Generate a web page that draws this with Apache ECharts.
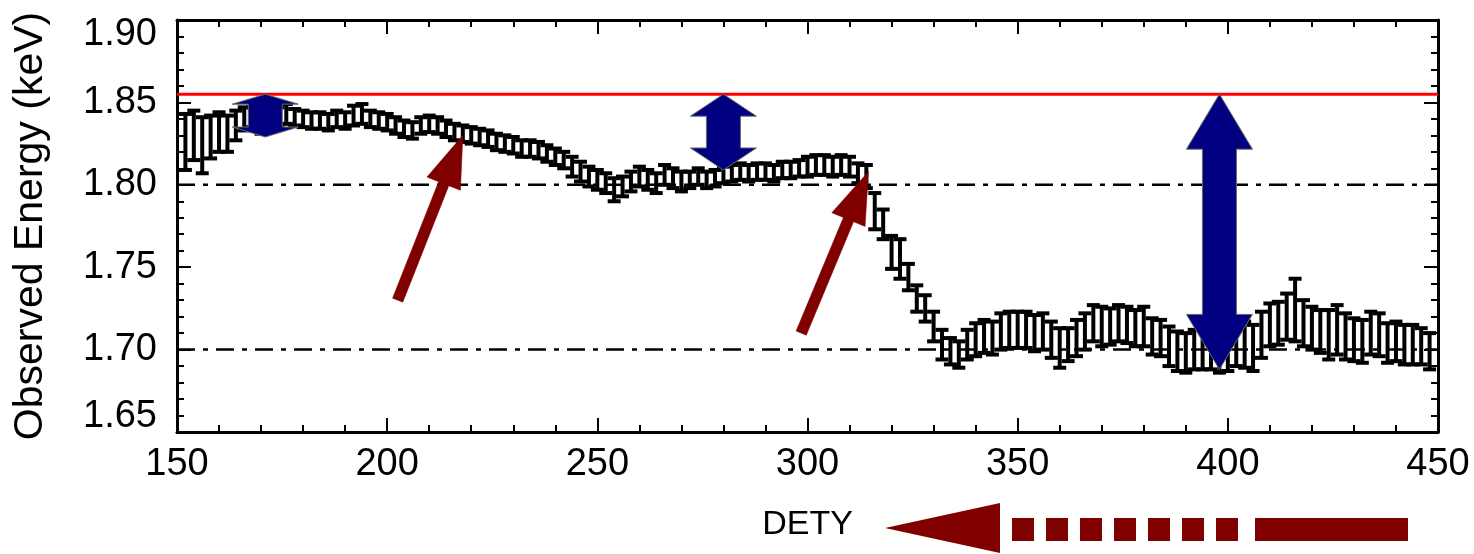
<!DOCTYPE html>
<html>
<head>
<meta charset="utf-8">
<script src="https://cdn.jsdelivr.net/npm/echarts@6/dist/echarts.min.js"></script>
<style>
  html, body { margin: 0; padding: 0; background: #fff; }
  #chart { width: 1474px; height: 554px; }
</style>
</head>
<body>
<div id="chart"></div>
<script>
// Detector row position (DETY) of each binned measurement
const dety = [
  152,154,156,158,160,162,164,166,168,170,172,174,176,178,180,182,184,186,188,190,
  192,194,196,198,200,202,204,206,208,210,212,214,216,218,220,222,224,226,228,230,
  232,234,236,238,240,242,244,246,248,250,252,254,256,258,260,262,264,266,268,270,
  272,274,276,278,280,282,284,286,288,290,292,294,296,298,300,302,304,306,308,310,
  312,314,316,318,320,322,324,326,328,330,332,334,336,338,340,342,344,346,348,350,
  352,354,356,358,360,362,364,366,368,370,372,374,376,378,380,382,384,386,388,390,
  392,394,396,398,400,402,404,406,408,410,412,414,416,418,420,422,424,426,428,430,
  432,434,436,438,440,442,444,446,448
];
// Observed line energy (keV)
const energy = [
  1.826,1.830,1.824,1.829,1.832,1.831,1.836,1.840,1.841,1.840,1.842,1.841,1.843,1.841,1.840,1.839,1.839,1.838,1.840,1.839,
  1.842,1.843,1.840,1.839,1.838,1.836,1.834,1.833,1.836,1.837,1.836,1.834,1.832,1.831,1.830,1.829,1.828,1.826,1.825,1.824,
  1.822,1.822,1.821,1.819,1.817,1.815,1.811,1.808,1.805,1.803,1.801,1.797,1.799,1.802,1.805,1.803,1.801,1.806,1.804,1.802,
  1.803,1.805,1.803,1.804,1.806,1.807,1.808,1.807,1.808,1.808,1.807,1.809,1.809,1.810,1.811,1.812,1.812,1.811,1.812,1.811,
  1.807,1.805,1.784,1.776,1.759,1.755,1.744,1.731,1.725,1.714,1.703,1.699,1.697,1.703,1.706,1.708,1.707,1.711,1.712,1.712,
  1.712,1.710,1.711,1.706,1.701,1.703,1.707,1.711,1.716,1.714,1.714,1.716,1.715,1.713,1.714,1.708,1.707,1.702,1.699,1.698,
  1.700,1.700,1.701,1.699,1.700,1.703,1.703,1.701,1.709,1.715,1.716,1.720,1.724,1.716,1.713,1.711,1.709,1.712,1.708,1.706,
  1.705,1.710,1.709,1.704,1.705,1.703,1.703,1.702,1.699
];
// 1-sigma uncertainty on the energy (keV)
const sigma = [
  .017,.015,.017,.013,.012,.011,.009,.007,.006,.009,.007,.006,.006,.005,.005,.005,.005,.005,.005,.005,
  .006,.006,.005,.005,.005,.005,.005,.005,.005,.005,.005,.005,.005,.005,.005,.005,.005,.005,.005,.005,
  .005,.005,.005,.005,.005,.005,.006,.006,.006,.006,.006,.007,.006,.006,.006,.006,.006,.006,.006,.006,
  .005,.005,.005,.005,.005,.005,.005,.005,.005,.005,.005,.005,.005,.005,.006,.006,.006,.006,.006,.006,
  .006,.007,.011,.009,.010,.012,.008,.008,.008,.009,.009,.008,.008,.009,.010,.010,.010,.011,.011,.011,
  .011,.011,.011,.011,.012,.010,.011,.011,.011,.012,.011,.011,.011,.011,.012,.011,.011,.012,.012,.012,
  .012,.012,.013,.013,.013,.013,.014,.014,.014,.013,.013,.014,.019,.014,.013,.013,.015,.015,.014,.013,
  .013,.013,.013,.012,.012,.012,.012,.011,.011
];

// Reference energy (solid red) and guide levels (dash-dot)
const referenceLevel = 1.855;
const guideLevels = [1.80, 1.70];

// Double-headed offsets from the reference level
const offsetX = [171, 280, 398];
const offsetTop = [1.855, 1.855, 1.855];
const offsetBottom = [1.829, 1.809, 1.688];

// Single-headed pointers to the features
const pointerFrom = [[202.5, 1.730], [298.5, 1.710]];
const pointerTo = [[218.0, 1.830], [314.5, 1.808]];

// Axis tick labels
const xTicks = [150, 200, 250, 300, 350, 400, 450];
const yTicks = ['1.65', '1.70', '1.75', '1.80', '1.85', '1.90'];

const FONT = 'Liberation Sans';
const BLUE = '#000080';
const MAROON = '#800000';
const offsetHead = [10, 22, 55];

const chart = echarts.init(document.getElementById('chart'), null, { renderer: 'canvas' });

const errData = dety.map((x, i) => [x, energy[i], sigma[i]]);

function renderErr(params, api) {
  const x = api.value(0), y = api.value(1), e = api.value(2);
  const top = api.coord([x, y + e]);
  const bot = api.coord([x, y - e]);
  const cap = 6.5;
  const style = { stroke: '#000', lineWidth: 4, fill: null };
  return {
    type: 'group',
    children: [
      { type: 'line', shape: { x1: top[0], y1: top[1], x2: bot[0], y2: bot[1] }, style },
      { type: 'line', shape: { x1: top[0] - cap, y1: top[1], x2: top[0] + cap, y2: top[1] }, style },
      { type: 'line', shape: { x1: bot[0] - cap, y1: bot[1], x2: bot[0] + cap, y2: bot[1] }, style }
    ]
  };
}

// Horizontal reference / guide lines spanning the plot width
function renderLevel(params, api) {
  const i = params.dataIndex;
  const v = api.value(0);
  const a = api.coord([150, v]);
  const b = api.coord([450, v]);
  const isRef = i === 0;
  return {
    type: 'line',
    shape: { x1: a[0], y1: a[1], x2: b[0], y2: b[1] },
    style: isRef
      ? { stroke: '#ff0000', lineWidth: 3 }
      : { stroke: '#000', lineWidth: 2.5, lineDash: [18, 8, 5, 8] }
  };
}

function renderOffset(params, api) {
  const i = params.dataIndex;
  const t = api.coord([offsetX[i], offsetTop[i]]);
  const b = api.coord([offsetX[i], offsetBottom[i]]);
  const cx = t[0], yt = t[1], yb = b[1];
  const h = offsetHead[i], W = 33, w = 17;
  return {
    type: 'polygon',
    shape: { points: [
      [cx, yt], [cx + W, yt + h], [cx + w, yt + h], [cx + w, yb - h], [cx + W, yb - h],
      [cx, yb], [cx - W, yb - h], [cx - w, yb - h], [cx - w, yt + h], [cx - W, yt + h]
    ] },
    style: { fill: BLUE, stroke: '#6a6a6a', lineWidth: 1 },
    z2: 10
  };
}

function renderPointer(params, api) {
  const i = params.dataIndex;
  const a = api.coord(pointerFrom[i]);
  const b = api.coord(pointerTo[i]);
  const dx = b[0] - a[0], dy = b[1] - a[1];
  const len = Math.sqrt(dx * dx + dy * dy);
  const ux = dx / len, uy = dy / len;
  const nx = -uy, ny = ux;
  const hl = 52, hw = 18, sw = 5.5;
  const bx = b[0] - ux * hl, by = b[1] - uy * hl;
  return {
    type: 'polygon',
    shape: { points: [
      [a[0] + nx * sw, a[1] + ny * sw],
      [bx + nx * sw, by + ny * sw],
      [bx + nx * hw, by + ny * hw],
      [b[0], b[1]],
      [bx - nx * hw, by - ny * hw],
      [bx - nx * sw, by - ny * sw],
      [a[0] - nx * sw, a[1] - ny * sw]
    ] },
    style: { fill: MAROON, stroke: MAROON, lineWidth: 0.5 },
    z2: 10
  };
}

// Direction arrow drawn under the DETY axis title
const dirGraphics = [];
dirGraphics.push({
  type: 'polygon',
  shape: { points: [[885, 528], [1000, 503], [1000, 553]] },
  style: { fill: MAROON }
});
for (let k = 0; k < 7; k++) {
  dirGraphics.push({
    type: 'rect',
    shape: { x: 1012 + k * 34, y: 518, width: 22, height: 23 },
    style: { fill: MAROON }
  });
}
dirGraphics.push({
  type: 'rect',
  shape: { x: 1255, y: 518, width: 153, height: 23 },
  style: { fill: MAROON }
});

const axisLineStyle = { color: '#000', width: 3 };
const labelStyle = { fontFamily: FONT, fontSize: 38, color: '#000' };

chart.setOption({
  animation: false,
  backgroundColor: '#fff',
  grid: { left: 177, right: 36, top: 20, bottom: 122, containLabel: false, outerBoundsMode: 'none' },
  graphic: dirGraphics,
  xAxis: [
    {
      type: 'value', min: xTicks[0], max: xTicks[xTicks.length - 1], interval: 50,
      position: 'bottom',
      axisLine: { lineStyle: axisLineStyle },
      axisTick: { inside: true, length: 14, lineStyle: { color: '#000', width: 2 } },
      minorTick: { show: true, splitNumber: 5, length: 7, lineStyle: { color: '#000', width: 2 } },
      splitLine: { show: false },
      axisLabel: Object.assign({ margin: 14, formatter: v => String(v) }, labelStyle),
      name: 'DETY', nameLocation: 'middle', nameGap: 76,
      nameTextStyle: { fontFamily: FONT, fontSize: 34, color: '#000' }
    },
    {
      type: 'value', min: xTicks[0], max: xTicks[xTicks.length - 1], interval: 50,
      position: 'top',
      axisLine: { lineStyle: axisLineStyle },
      axisTick: { inside: true, length: 14, lineStyle: { color: '#000', width: 2 } },
      minorTick: { show: true, splitNumber: 5, length: 7, lineStyle: { color: '#000', width: 2 } },
      splitLine: { show: false },
      axisLabel: { show: false }
    }
  ],
  yAxis: [
    {
      type: 'value', min: 1.65, max: 1.90, interval: 0.05,
      position: 'left',
      axisLine: { lineStyle: axisLineStyle },
      axisTick: { inside: true, length: 14, lineStyle: { color: '#000', width: 2 } },
      minorTick: { show: true, splitNumber: 5, length: 7, lineStyle: { color: '#000', width: 2 } },
      splitLine: { show: false },
      axisLabel: Object.assign({
        margin: 20,
        formatter: v => {
          const s = v.toFixed(2);
          if (s === yTicks[0]) return '{lo|' + s + '}';
          if (s === yTicks[yTicks.length - 1]) return '{hi|' + s + '}';
          return s;
        },
        rich: {
          lo: { fontFamily: FONT, fontSize: 38, color: '#000', padding: [0, 0, 30, 0] },
          hi: { fontFamily: FONT, fontSize: 38, color: '#000', padding: [30, 0, 0, 0] }
        }
      }, labelStyle),
      name: 'Observed Energy (keV)', nameLocation: 'middle', nameGap: 126, nameRotate: 90,
      nameTextStyle: { fontFamily: FONT, fontSize: 41, color: '#000' }
    },
    {
      type: 'value', min: 1.65, max: 1.90, interval: 0.05,
      position: 'right',
      axisLine: { lineStyle: axisLineStyle },
      axisTick: { inside: true, length: 14, lineStyle: { color: '#000', width: 2 } },
      minorTick: { show: true, splitNumber: 5, length: 7, lineStyle: { color: '#000', width: 2 } },
      splitLine: { show: false },
      axisLabel: { show: false }
    }
  ],
  series: [
    {
      name: 'levels',
      type: 'custom',
      renderItem: renderLevel,
      data: [referenceLevel, ...guideLevels].map(v => [v]),
      encode: { y: 0 },
      z: 1,
      silent: true
    },
    {
      name: 'energy',
      type: 'custom',
      renderItem: renderErr,
      data: errData,
      encode: { x: 0, y: [1] },
      z: 3,
      silent: true
    },
    {
      name: 'offsets',
      type: 'custom',
      renderItem: renderOffset,
      data: offsetX.map((x, i) => [x, offsetTop[i], offsetBottom[i]]),
      encode: { x: 0, y: [1, 2] },
      z: 5,
      silent: true
    },
    {
      name: 'pointers',
      type: 'custom',
      renderItem: renderPointer,
      data: pointerTo.map((p, i) => [pointerFrom[i][0], pointerFrom[i][1], p[0], p[1]]),
      encode: { x: [0, 2], y: [1, 3] },
      z: 5,
      silent: true
    }
  ]
});
</script>
</body>
</html>
